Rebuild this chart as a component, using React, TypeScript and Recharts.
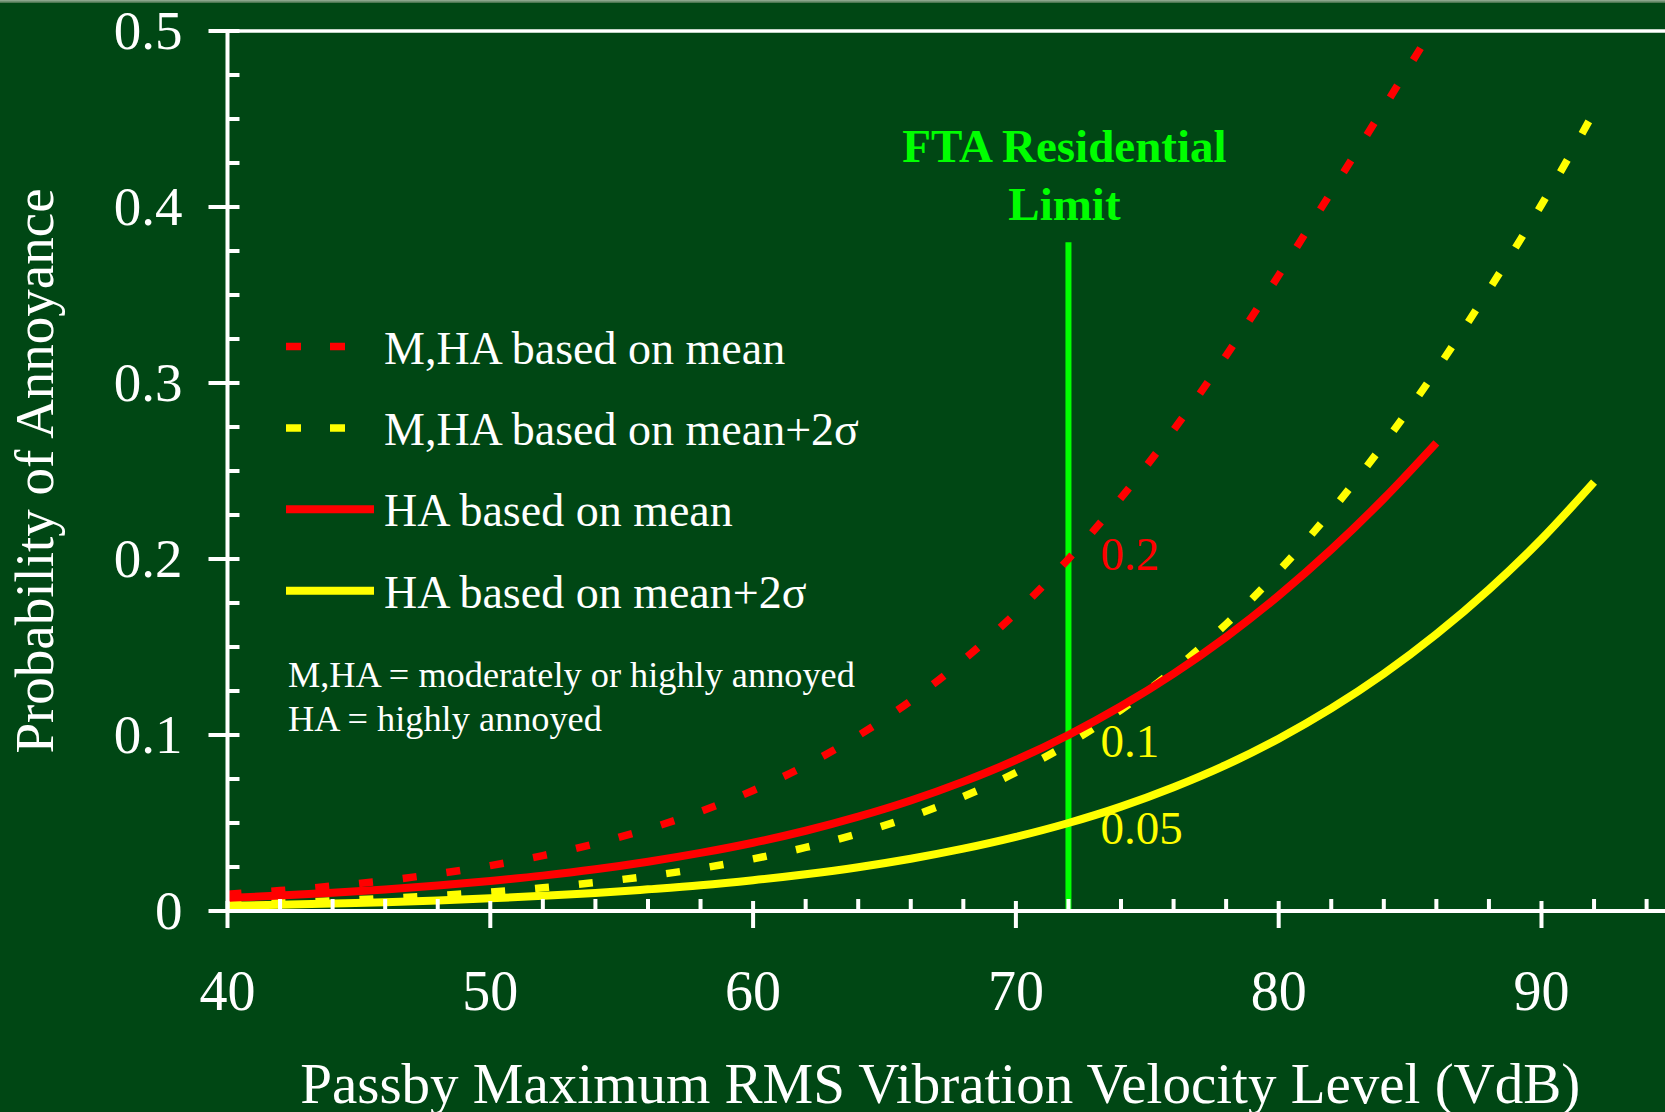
import React from 'react';
import { LineChart, Line, XAxis, YAxis, ReferenceLine, ReferenceDot, Legend, Label } from 'recharts';

const FONT = '"Liberation Serif", "Times New Roman", Times, serif';
const RED = '#ff0000';
const YELLOW = '#ffff00';
const GREEN = '#00ff00';
const BG = '#004714';

// x tick values (VdB)
const xTicks = [40, 42, 44, 46, 48, 50, 52, 54, 56, 58, 60, 62, 64, 66, 68, 70, 72, 74, 76, 78, 80, 82, 84, 86, 88, 90, 92, 94];
// y tick values (probability)
const yTicks = [0, 0.025, 0.05, 0.075, 0.1, 0.125, 0.15, 0.175, 0.2, 0.225, 0.25, 0.275, 0.3, 0.325, 0.35, 0.375, 0.4, 0.425, 0.45, 0.475, 0.5];

// M,HA based on mean (red dashed)
const mhaMean = [
  { x: 40, y: 0.0095 }, { x: 42, y: 0.0116 }, { x: 44, y: 0.0142 }, { x: 46, y: 0.0173 },
  { x: 48, y: 0.0212 }, { x: 50, y: 0.0258 }, { x: 52, y: 0.0315 }, { x: 54, y: 0.0383 },
  { x: 56, y: 0.0466 }, { x: 58, y: 0.0566 }, { x: 60, y: 0.0685 }, { x: 62, y: 0.0827 },
  { x: 64, y: 0.0996 }, { x: 66, y: 0.1194 }, { x: 68, y: 0.1426 }, { x: 70, y: 0.1694 },
  { x: 72, y: 0.2 }, { x: 74, y: 0.2347 }, { x: 76, y: 0.2733 }, { x: 78, y: 0.3156 },
  { x: 80, y: 0.3612 }, { x: 82, y: 0.4085 }, { x: 84, y: 0.4565 }, { x: 85.8, y: 0.5 },
];
// M,HA based on mean+2σ (yellow dashed)
const mhaMean2s = [
  { x: 40, y: 0.0039 }, { x: 42, y: 0.0048 }, { x: 44, y: 0.0058 }, { x: 46, y: 0.0072 },
  { x: 48, y: 0.0088 }, { x: 50, y: 0.0108 }, { x: 52, y: 0.0132 }, { x: 54, y: 0.0162 },
  { x: 56, y: 0.0198 }, { x: 58, y: 0.0242 }, { x: 60, y: 0.0296 }, { x: 62, y: 0.0361 },
  { x: 64, y: 0.044 }, { x: 66, y: 0.0536 }, { x: 68, y: 0.065 }, { x: 70, y: 0.0787 },
  { x: 72, y: 0.095 }, { x: 74, y: 0.1143 }, { x: 76, y: 0.1368 }, { x: 78, y: 0.163 },
  { x: 80, y: 0.1931 }, { x: 82, y: 0.2272 }, { x: 84, y: 0.2654 }, { x: 86, y: 0.3074 },
  { x: 88, y: 0.353 }, { x: 90, y: 0.4013 }, { x: 92, y: 0.454 },
];
// HA based on mean (red solid)
const haMean = [
  { x: 40, y: 0.0074 }, { x: 42, y: 0.0088 }, { x: 44, y: 0.0104 }, { x: 46, y: 0.0122 },
  { x: 48, y: 0.0145 }, { x: 50, y: 0.0171 }, { x: 52, y: 0.0201 }, { x: 54, y: 0.0237 },
  { x: 56, y: 0.028 }, { x: 58, y: 0.033 }, { x: 60, y: 0.0388 }, { x: 62, y: 0.0456 },
  { x: 64, y: 0.0536 }, { x: 66, y: 0.0628 }, { x: 68, y: 0.0735 }, { x: 70, y: 0.0858 },
  { x: 72, y: 0.1 }, { x: 74, y: 0.1163 }, { x: 76, y: 0.1348 }, { x: 78, y: 0.1557 },
  { x: 80, y: 0.1792 }, { x: 82, y: 0.2054 }, { x: 84, y: 0.2343 }, { x: 86, y: 0.266 },
];
// HA based on mean+2σ (yellow solid)
const haMean2s = [
  { x: 40, y: 0.0029 }, { x: 42, y: 0.0035 }, { x: 44, y: 0.0042 }, { x: 46, y: 0.005 },
  { x: 48, y: 0.006 }, { x: 50, y: 0.0072 }, { x: 52, y: 0.0086 }, { x: 54, y: 0.0102 },
  { x: 56, y: 0.0123 }, { x: 58, y: 0.0146 }, { x: 60, y: 0.0175 }, { x: 62, y: 0.0209 },
  { x: 64, y: 0.0249 }, { x: 66, y: 0.0297 }, { x: 68, y: 0.0354 }, { x: 70, y: 0.0421 },
  { x: 72, y: 0.05 }, { x: 74, y: 0.0593 }, { x: 76, y: 0.0703 }, { x: 78, y: 0.083 },
  { x: 80, y: 0.0979 }, { x: 82, y: 0.1151 }, { x: 84, y: 0.1348 }, { x: 86, y: 0.1573 },
  { x: 88, y: 0.1827 }, { x: 90, y: 0.2113 }, { x: 92, y: 0.2437 },
];

const limitX = 72;
const limitTop = 0.38;
const limitLines = ['FTA Residential', 'Limit'];
const limitValues = [
  { y: 0.2, text: '0.2' },
  { y: 0.1, text: '0.1' },
  { y: 0.05, text: '0.05' },
];
const notes = ['M,HA = moderately or highly annoyed', 'HA = highly annoyed'];

const SERIES = [
  { key: 'mhaMean', name: 'M,HA based on mean', data: mhaMean, color: RED, dashed: true },
  { key: 'mhaMean2s', name: 'M,HA based on mean+2σ', data: mhaMean2s, color: YELLOW, dashed: true },
  { key: 'haMean', name: 'HA based on mean', data: haMean, color: RED, dashed: false },
  { key: 'haMean2s', name: 'HA based on mean+2σ', data: haMean2s, color: YELLOW, dashed: false },
];

const valueStyle: Record<string, { color: string; dy: number }> = {
  '0.2': { color: RED, dy: 11 },
  '0.1': { color: YELLOW, dy: 22 },
  '0.05': { color: YELLOW, dy: 21 },
};

const YTick = (props: any) => {
  const { x, y, payload } = props;
  const v = payload.value as number;
  const major = Math.abs(v * 10 - Math.round(v * 10)) < 1e-6;
  return (
    <g>
      <line x1={major ? x - 19 : x} x2={x + 12} y1={y} y2={y} stroke="#fff" strokeWidth={4} />
      {major && (
        <text x={x - 45} y={y + 18} textAnchor="end" fill="#fff" fontSize={55} fontFamily={FONT}>
          {String(v)}
        </text>
      )}
    </g>
  );
};

const XTick = (props: any) => {
  const { x, y, payload } = props;
  const v = payload.value as number;
  const major = v % 10 === 0;
  return (
    <g>
      <line x1={x} x2={x} y1={major ? y - 10 : y - 12} y2={major ? y + 17 : y} stroke="#fff" strokeWidth={4} />
      {major && (
        <text x={x} y={y + 99} textAnchor="middle" fill="#fff" fontSize={56} fontFamily={FONT}>
          {String(v)}
        </text>
      )}
    </g>
  );
};

const renderLegend = (props: any) => {
  const payload: any[] = props.payload || [];
  // keep the reference's legend order (dashed M,HA first, then solid HA)
  const items = SERIES.map((s) => {
    const p = payload.find((e: any) => e.value === s.name);
    return { ...s, color: p?.color || s.color };
  });
  return (
    <svg width={900} height={760} style={{ display: 'block', overflow: 'visible' }}>
      {items.map((s, i) => {
        const cy = 346.5 + i * 81.4;
        return (
          <g key={s.key}>
            <line
              x1={286}
              x2={374}
              y1={cy}
              y2={cy}
              stroke={s.color}
              strokeWidth={s.dashed ? 7.5 : 8}
              strokeDasharray={s.dashed ? '15 29' : undefined}
            />
            <text x={384} y={cy + 17} fill="#fff" fontSize={46} fontFamily={FONT}>
              {s.name}
            </text>
          </g>
        );
      })}
      {notes.map((n, i) => (
        <text key={n} x={288} y={687 + i * 44} fill="#fff" fontSize={36.3} fontFamily={FONT}>
          {n}
        </text>
      ))}
    </svg>
  );
};

const LimitLabel = (props: any) => {
  const vb = props.viewBox || {};
  const x = (vb.x ?? 0) - 4;
  const top = vb.y ?? 0;
  return (
    <g>
      {limitLines.map((t, i) => (
        <text
          key={t}
          x={x}
          y={top - 80 + i * 57.3}
          textAnchor="middle"
          fill={GREEN}
          fontSize={47}
          fontWeight="bold"
          fontFamily={FONT}
        >
          {t}
        </text>
      ))}
    </g>
  );
};

const makeValueLabel = (text: string) => (props: any) => {
  const vb = props.viewBox || {};
  const st = valueStyle[text];
  return (
    <text x={(vb.x ?? 0) + 32} y={(vb.y ?? 0) + st.dy} fill={st.color} fontSize={47} fontFamily={FONT}>
      {text}
    </text>
  );
};

const YTitle = (props: any) => {
  const vb = props.viewBox || { x: 0, y: 0, width: 0, height: 0 };
  const cx = vb.x + 53;
  const cy = vb.y + vb.height / 2;
  return (
    <text transform={`translate(${cx},${cy}) rotate(-90)`} textAnchor="middle" fill="#fff" fontSize={55} fontFamily={FONT}>
      Probability of Annoyance
    </text>
  );
};

const XTitle = (props: any) => {
  const vb = props.viewBox || { x: 0, y: 0, width: 0, height: 0 };
  return (
    <text x={vb.x + vb.width / 2 - 6} y={vb.y + 192} textAnchor="middle" fill="#fff" fontSize={57} fontFamily={FONT}>
      Passby Maximum RMS Vibration Velocity Level (VdB)
    </text>
  );
};

export default function App() {
  return (
    <div
      style={{
        position: 'absolute',
        left: 0,
        top: 0,
        width: 1665,
        height: 1112,
        background: BG,
        overflow: 'hidden',
        fontFamily: FONT,
      }}
    >
      <div style={{ position: 'absolute', left: 0, top: 0, width: 1665, height: 3, background: 'linear-gradient(#9ab09a, #3f6e45)' }} />
      <LineChart width={1665} height={1112} margin={{ top: 31, right: 0, bottom: 0, left: 0 }}>
        <XAxis
          type="number"
          dataKey="x"
          domain={[40, 94.7]}
          allowDataOverflow
          ticks={xTicks}
          interval={0}
          tickSize={0}
          tickMargin={0}
          tickLine={false}
          tick={<XTick />}
          height={201}
          axisLine={{ stroke: '#fff', strokeWidth: 4 }}
          label={<Label content={<XTitle />} />}
        />
        <YAxis
          type="number"
          dataKey="y"
          domain={[0, 0.5]}
          allowDataOverflow
          ticks={yTicks}
          interval={0}
          tickSize={0}
          tickMargin={0}
          tickLine={false}
          tick={<YTick />}
          width={227.5}
          axisLine={{ stroke: '#fff', strokeWidth: 4 }}
          label={<Label content={<YTitle />} />}
        />
        <ReferenceLine y={0.5} stroke="#fff" strokeWidth={3.5} />
        <ReferenceLine
          segment={[{ x: limitX, y: 0 }, { x: limitX, y: limitTop }]}
          stroke={GREEN}
          strokeWidth={6}
          label={<Label content={<LimitLabel />} />}
        />
        {SERIES.map((s) => (
          <Line
            key={s.key}
            data={s.data}
            dataKey="y"
            name={s.name}
            type="monotone"
            stroke={s.color}
            strokeWidth={s.dashed ? 7.5 : 8}
            strokeDasharray={s.dashed ? '14 30' : undefined}
            dot={false}
            activeDot={false}
            isAnimationActive={false}
          />
        ))}
        {limitValues.map((v) => (
          <ReferenceDot
            key={v.text}
            x={limitX}
            y={v.y}
            r={0}
            fill="none"
            stroke="none"
            label={<Label content={makeValueLabel(v.text)} />}
          />
        ))}
        <Legend
          layout="vertical"
          align="center"
          verticalAlign="middle"
          content={renderLegend}
          wrapperStyle={{ left: 0, top: 0, width: 900, height: 760 }}
        />
      </LineChart>
    </div>
  );
}
